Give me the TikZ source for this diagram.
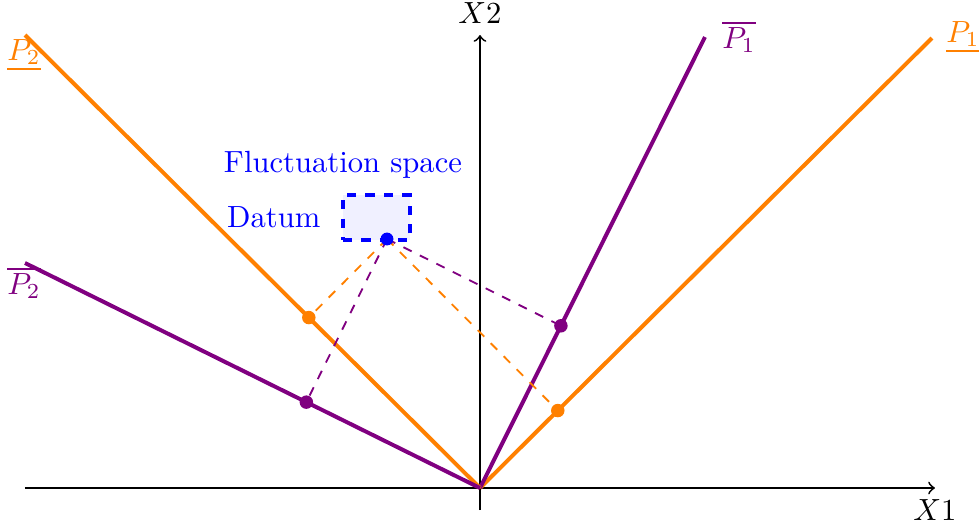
\documentclass[tikz,border=0pt]{standalone}
\usetikzlibrary{calc}
\begin{document}
\begin{tikzpicture}[x=0.011468cm, y=0.011468cm,
  axis/.style={semithick,->},
  orline/.style={line width=1.3pt,orange},
  puline/.style={line width=1.3pt,violet},
  ordash/.style={semithick,dashed,orange},
  pudash/.style={semithick,dashed,violet},
  dotor/.style={circle,fill=orange,inner sep=0pt,minimum size=4.4pt},
  dotpu/.style={circle,fill=violet,inner sep=0pt,minimum size=4.4pt},
  bluetext/.style={text=blue}]
\useasboundingbox (-480,-42) rectangle (499,488);
% axes
\coordinate (O) at (0,0);
\coordinate (xs) at (-455,0);
\coordinate (xe) at (455,0);
\coordinate (ys) at (0,-22);
\coordinate (ye) at (0,453);
\draw[axis] (xs) -- (xe) node[below] (x1) {$X1$};
\draw[axis] (ys) -- (ye) node[above] (x2) {$X2$};
% line ends
\coordinate (P1) at (452,450);
\coordinate (P1b) at (225,451);
\coordinate (P2) at (-455,453);
\coordinate (P2b) at (-455,225);
\draw[orline] (O) -- (P1);
\draw[puline] (O) -- (P1b);
\draw[orline] (O) -- (P2);
\draw[puline] (O) -- (P2b);
% labels
\node[orange] (lP1) at (483,451) {$\underline{P_1}$};
\node[violet] (lP1b) at (259,451) {$\overline{P_1}$};
\node[orange] (lP2) at (-456,433) {$\underline{P_2}$};
\node[violet] (lP2b) at (-456,205) {$\overline{P_2}$};
% fluctuation space
\node[draw=blue,dashed,very thick,fill=blue!6,minimum width=67*0.3257pt,minimum height=45*0.3257pt,inner sep=0pt] (fs) at (-103.5,270.5) {};
\node[bluetext,anchor=east] (dl) at ($(fs.west)+(-10,0)$) {Datum};
\node[bluetext] (fl) at (-137,323) {Fluctuation space};
\coordinate (D) at (-93,249);
% projections
\coordinate (q1) at ($(O)!(D)!(P1)$);
\coordinate (q1b) at ($(O)!(D)!(P1b)$);
\coordinate (q2) at ($(O)!(D)!(P2)$);
\coordinate (q2b) at ($(O)!(D)!(P2b)$);
\draw[ordash] (D) -- (q1);
\draw[pudash] (D) -- (q1b);
\draw[ordash] (D) -- (q2);
\draw[pudash] (D) -- (q2b);
\node[dotor] (d1) at (q1) {};
\node[dotpu] (d1b) at (q1b) {};
\node[dotor] (d2) at (q2) {};
\node[dotpu] (d2b) at (q2b) {};
\node[circle,fill=blue,inner sep=0pt,minimum size=4.2pt] (dd) at (D) {};
\end{tikzpicture}
\end{document}
